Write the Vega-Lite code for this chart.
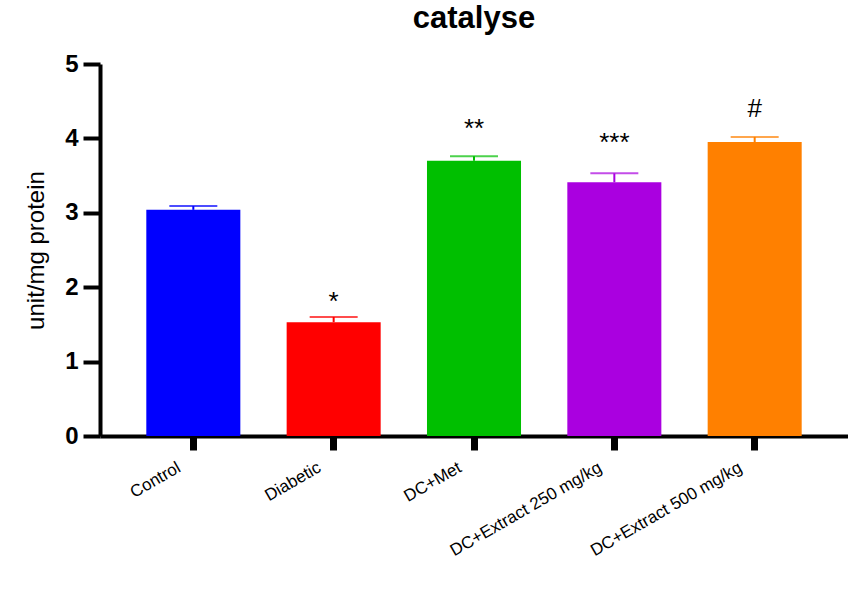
{
  "$schema": "https://vega.github.io/schema/vega-lite/v6.json",
  "width": 748,
  "height": 372,
  "autosize": {"type": "none"},
  "padding": {"left": 100, "top": 64, "right": 0, "bottom": 158},
  "background": "white",
  "title": {"text": "catalyse", "font": "Liberation Sans", "fontSize": 31, "fontWeight": "bold", "color": "black", "anchor": "middle", "frame": "group", "offset": 17},
  "data": {"values": [
    {"group": "Control", "mean": 3.04, "upper": 3.09, "sig": "", "sig_y": 3.3, "color": "#0000FF"},
    {"group": "Diabetic", "mean": 1.53, "upper": 1.60, "sig": "*", "sig_y": 1.80, "color": "#FF0000"},
    {"group": "DC+Met", "mean": 3.70, "upper": 3.76, "sig": "**", "sig_y": 4.13, "color": "#00BF00"},
    {"group": "DC+Extract 250 mg/kg", "mean": 3.41, "upper": 3.53, "sig": "***", "sig_y": 3.94, "color": "#AA00E0"},
    {"group": "DC+Extract 500 mg/kg", "mean": 3.95, "upper": 4.02, "sig": "#", "sig_y": 4.4, "color": "#FF8000"}
  ]},
  "encoding": {
    "x": {"field": "group", "type": "nominal", "sort": null,
      "scale": {"paddingInner": 0.33, "paddingOuter": 0.33},
      "axis": {"title": null, "labelAngle": -30, "labelAlign": "right", "labelBaseline": "middle", "labelFont": "Liberation Sans", "labelFontSize": 17, "labelColor": "black", "labelPadding": 16, "labelOffset": -14,
        "domainColor": "black", "domainWidth": 4, "tickColor": "black", "tickWidth": 7, "tickSize": 14, "grid": false}}
  },
  "layer": [
    {
      "mark": {"type": "bar"},
      "encoding": {
        "y": {"field": "mean", "type": "quantitative", "scale": {"domain": [0, 5], "nice": false},
          "axis": {"title": "unit/mg protein", "titleFont": "Liberation Sans", "titleFontSize": 24, "titleFontWeight": "normal", "titleColor": "black", "titlePadding": 16,
            "values": [0, 1, 2, 3, 4, 5], "format": "d", "labelFont": "Liberation Sans", "labelFontSize": 24, "labelFontWeight": "bold", "labelColor": "black", "labelPadding": 5,
            "domainColor": "black", "domainWidth": 4, "tickColor": "black", "tickWidth": 4, "tickSize": 17, "grid": false}},
        "color": {"field": "color", "type": "nominal", "scale": null}
      }
    },
    {
      "mark": {"type": "rule", "strokeWidth": 2},
      "encoding": {
        "y": {"field": "mean", "type": "quantitative"},
        "y2": {"field": "upper"},
        "color": {"field": "color", "type": "nominal", "scale": null}
      }
    },
    {
      "mark": {"type": "tick", "thickness": 2, "size": 48, "orient": "horizontal"},
      "encoding": {
        "y": {"field": "upper", "type": "quantitative"},
        "color": {"field": "color", "type": "nominal", "scale": null}
      }
    },
    {
      "mark": {"type": "text", "font": "Liberation Sans", "fontSize": 26, "baseline": "middle", "color": "black"},
      "encoding": {
        "y": {"field": "sig_y", "type": "quantitative"},
        "text": {"field": "sig"}
      }
    }
  ],
  "config": {"view": {"stroke": null}}
}
